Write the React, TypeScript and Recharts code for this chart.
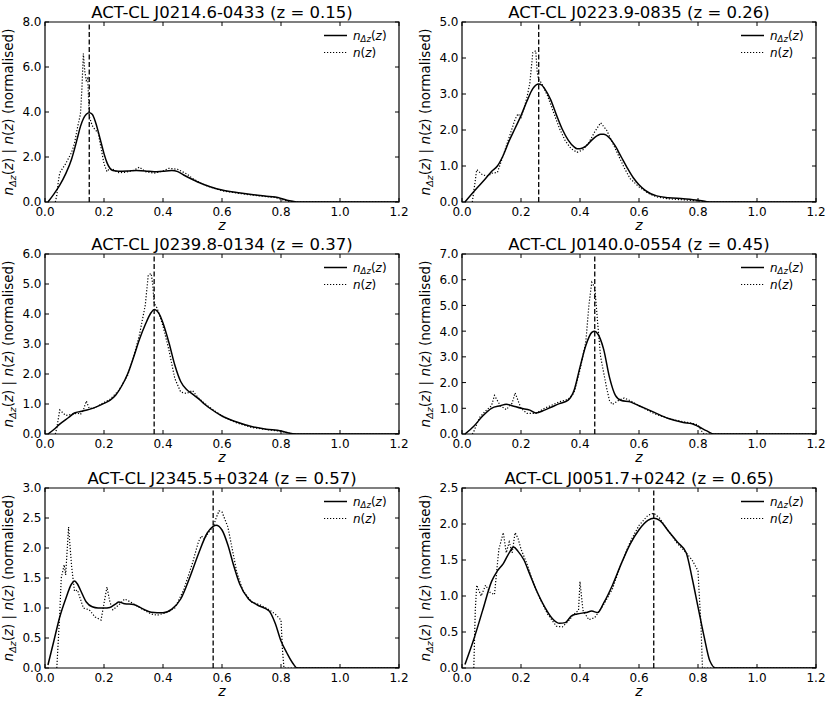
import React from 'react';
import { LineChart, Line, XAxis, YAxis, ReferenceLine, ReferenceArea, Legend } from 'recharts';

type Pt = [number, number];

const X_TICKS = [0, 0.2, 0.4, 0.6, 0.8, 1.0, 1.2];

const j0214Titles = 'ACT-CL J0214.6-0433 (z = 0.15)';
const j0214Z = 0.15;
const j0214YTicks = [0, 2, 4, 6, 8];
const j0214Smooth: Pt[] = [[0.01,0],[0.03,0.35],[0.05,0.75],[0.07,1.25],[0.09,1.9],[0.1,2.35],[0.11,2.85],[0.12,3.35],[0.13,3.7],[0.14,3.9],[0.15,3.97],[0.16,3.9],[0.17,3.6],[0.18,3.15],[0.19,2.65],[0.2,2.15],[0.21,1.75],[0.22,1.5],[0.23,1.4],[0.25,1.37],[0.28,1.38],[0.31,1.4],[0.34,1.38],[0.37,1.34],[0.4,1.37],[0.43,1.4],[0.45,1.35],[0.47,1.2],[0.5,1.0],[0.53,0.82],[0.56,0.68],[0.6,0.53],[0.65,0.42],[0.7,0.33],[0.75,0.26],[0.78,0.22],[0.8,0.16],[0.82,0.08],[0.84,0.03],[0.86,0],[1.2,0]];
const j0214Raw: Pt[] = [[0.035,0],[0.04,0.3],[0.045,0.9],[0.05,1.3],[0.06,1.5],[0.07,1.7],[0.08,1.95],[0.09,2.2],[0.1,2.6],[0.11,3.3],[0.12,3.9],[0.125,5.0],[0.13,6.6],[0.135,5.8],[0.14,5.4],[0.145,5.5],[0.15,3.8],[0.16,3.4],[0.17,3.2],[0.18,3.1],[0.19,2.4],[0.2,1.7],[0.21,1.35],[0.22,1.5],[0.23,1.45],[0.25,1.3],[0.27,1.32],[0.3,1.4],[0.32,1.55],[0.34,1.35],[0.37,1.28],[0.4,1.38],[0.42,1.5],[0.45,1.45],[0.48,1.25],[0.5,1.05],[0.53,0.82],[0.56,0.66],[0.6,0.5],[0.65,0.4],[0.7,0.31],[0.75,0.24],[0.78,0.2],[0.8,0.12],[0.82,0.05],[0.84,0],[1.2,0]];

const j0223Title = 'ACT-CL J0223.9-0835 (z = 0.26)';
const j0223Z = 0.26;
const j0223YTicks = [0, 1, 2, 3, 4, 5];
const j0223Smooth: Pt[] = [[0.01,0],[0.05,0.38],[0.08,0.65],[0.1,0.85],[0.12,1.0],[0.14,1.3],[0.16,1.7],[0.18,2.05],[0.2,2.4],[0.22,2.8],[0.24,3.15],[0.26,3.28],[0.27,3.25],[0.28,3.15],[0.3,2.85],[0.32,2.42],[0.34,2.02],[0.36,1.72],[0.38,1.53],[0.39,1.48],[0.4,1.48],[0.42,1.55],[0.44,1.72],[0.46,1.85],[0.47,1.88],[0.48,1.88],[0.5,1.78],[0.52,1.55],[0.54,1.25],[0.56,0.95],[0.58,0.68],[0.6,0.48],[0.62,0.33],[0.64,0.23],[0.66,0.17],[0.7,0.12],[0.75,0.09],[0.8,0.05],[0.83,0.01],[0.85,0],[1.2,0]];
const j0223Raw: Pt[] = [[0.035,0],[0.04,0.3],[0.05,0.9],[0.07,0.75],[0.09,0.72],[0.1,0.8],[0.12,0.82],[0.14,1.3],[0.16,1.8],[0.18,2.3],[0.19,2.45],[0.2,2.35],[0.21,2.6],[0.22,2.9],[0.23,3.3],[0.24,4.15],[0.25,4.2],[0.255,3.6],[0.26,3.4],[0.27,3.3],[0.29,2.95],[0.31,2.5],[0.33,2.05],[0.35,1.7],[0.37,1.48],[0.39,1.38],[0.41,1.45],[0.43,1.65],[0.45,1.95],[0.47,2.2],[0.49,2.0],[0.51,1.65],[0.53,1.3],[0.55,0.95],[0.57,0.65],[0.6,0.42],[0.63,0.25],[0.66,0.14],[0.7,0.09],[0.75,0.06],[0.8,0.03],[0.82,0],[1.2,0]];

const j0239Title = 'ACT-CL J0239.8-0134 (z = 0.37)';
const j0239Z = 0.37;
const j0239YTicks = [0, 1, 2, 3, 4, 5, 6];
const j0239Smooth: Pt[] = [[0.01,0],[0.03,0.15],[0.05,0.33],[0.08,0.55],[0.1,0.7],[0.12,0.75],[0.15,0.82],[0.18,0.93],[0.2,1.02],[0.22,1.12],[0.24,1.3],[0.26,1.6],[0.28,2.0],[0.3,2.55],[0.32,3.15],[0.34,3.65],[0.36,4.05],[0.37,4.15],[0.38,4.1],[0.39,3.95],[0.4,3.7],[0.42,3.05],[0.44,2.3],[0.46,1.75],[0.48,1.48],[0.5,1.33],[0.52,1.18],[0.54,1.0],[0.56,0.85],[0.6,0.6],[0.65,0.4],[0.7,0.25],[0.75,0.16],[0.8,0.1],[0.82,0.05],[0.85,0],[1.2,0]];
const j0239Raw: Pt[] = [[0.035,0],[0.04,0.2],[0.05,0.8],[0.07,0.62],[0.09,0.65],[0.11,0.7],[0.12,0.65],[0.13,0.8],[0.14,1.1],[0.15,0.85],[0.17,0.88],[0.2,1.05],[0.22,1.15],[0.25,1.45],[0.28,1.95],[0.3,2.55],[0.32,3.3],[0.34,4.3],[0.35,5.3],[0.36,5.35],[0.365,5.0],[0.37,4.35],[0.38,4.2],[0.4,3.6],[0.42,2.8],[0.44,1.85],[0.46,1.4],[0.48,1.35],[0.5,1.45],[0.52,1.2],[0.55,0.95],[0.6,0.6],[0.65,0.37],[0.7,0.22],[0.75,0.15],[0.8,0.09],[0.83,0.02],[0.85,0],[1.2,0]];

const j0140Title = 'ACT-CL J0140.0-0554 (z = 0.45)';
const j0140Z = 0.45;
const j0140YTicks = [0, 1, 2, 3, 4, 5, 6, 7];
const j0140Smooth: Pt[] = [[0.01,0],[0.04,0.3],[0.07,0.7],[0.1,1.0],[0.13,1.1],[0.15,1.16],[0.17,1.1],[0.2,1.0],[0.23,0.93],[0.25,0.82],[0.28,0.93],[0.3,1.03],[0.33,1.18],[0.36,1.32],[0.38,1.7],[0.4,2.6],[0.42,3.45],[0.44,3.95],[0.45,4.0],[0.46,3.9],[0.48,3.3],[0.5,2.2],[0.52,1.5],[0.54,1.3],[0.57,1.25],[0.6,1.1],[0.65,0.85],[0.7,0.6],[0.75,0.45],[0.78,0.4],[0.8,0.3],[0.83,0.12],[0.855,0],[1.2,0]];
const j0140Raw: Pt[] = [[0.035,0],[0.04,0.1],[0.06,0.65],[0.08,0.9],[0.1,1.1],[0.11,1.5],[0.13,1.1],[0.15,0.95],[0.17,1.2],[0.18,1.6],[0.2,1.0],[0.22,0.8],[0.25,0.8],[0.28,1.0],[0.3,1.1],[0.33,1.25],[0.36,1.35],[0.38,1.6],[0.4,2.5],[0.42,3.6],[0.43,5.0],[0.44,5.9],[0.45,5.7],[0.46,4.3],[0.47,3.0],[0.49,1.8],[0.5,1.3],[0.51,1.15],[0.53,1.3],[0.55,1.4],[0.57,1.3],[0.6,1.1],[0.65,0.8],[0.7,0.6],[0.75,0.48],[0.78,0.42],[0.8,0.35],[0.81,0.15],[0.82,0],[1.2,0]];

const j2345Title = 'ACT-CL J2345.5+0324 (z = 0.57)';
const j2345Z = 0.57;
const j2345YTicks = [0, 0.5, 1, 1.5, 2, 2.5, 3];
const j2345Smooth: Pt[] = [[0.01,0.05],[0.03,0.45],[0.05,0.85],[0.07,1.15],[0.09,1.4],[0.1,1.45],[0.11,1.4],[0.12,1.3],[0.14,1.1],[0.16,1.02],[0.18,1.0],[0.2,1.0],[0.22,1.01],[0.24,1.07],[0.25,1.1],[0.27,1.07],[0.3,1.06],[0.33,0.99],[0.36,0.93],[0.4,0.92],[0.43,0.98],[0.46,1.15],[0.49,1.5],[0.52,1.9],[0.55,2.25],[0.57,2.36],[0.58,2.38],[0.6,2.3],[0.62,2.05],[0.64,1.7],[0.66,1.4],[0.69,1.15],[0.72,1.05],[0.76,0.95],[0.78,0.75],[0.8,0.45],[0.82,0.25],[0.84,0.08],[0.855,0],[1.2,0]];
const j2345Raw: Pt[] = [[0.04,0],[0.05,0.9],[0.055,1.5],[0.065,1.72],[0.07,1.55],[0.08,2.35],[0.09,1.7],[0.1,1.28],[0.11,1.3],[0.13,1.0],[0.15,0.97],[0.17,0.85],[0.19,0.8],[0.21,1.35],[0.22,1.1],[0.23,0.97],[0.25,1.05],[0.27,1.15],[0.29,1.1],[0.33,0.98],[0.36,0.9],[0.38,0.88],[0.41,0.92],[0.44,1.0],[0.47,1.3],[0.5,1.75],[0.52,2.1],[0.53,2.2],[0.54,2.15],[0.56,2.3],[0.57,2.35],[0.58,2.5],[0.59,2.62],[0.6,2.6],[0.62,2.35],[0.63,2.1],[0.65,1.6],[0.67,1.3],[0.7,1.1],[0.73,1.05],[0.76,0.97],[0.78,0.9],[0.8,0.8],[0.805,0.3],[0.81,0],[1.2,0]];

const j0051Title = 'ACT-CL J0051.7+0242 (z = 0.65)';
const j0051Z = 0.65;
const j0051YTicks = [0, 0.5, 1, 1.5, 2, 2.5];
const j0051Smooth: Pt[] = [[0.01,0.05],[0.04,0.4],[0.07,0.8],[0.1,1.2],[0.12,1.35],[0.14,1.45],[0.16,1.6],[0.175,1.68],[0.19,1.62],[0.21,1.5],[0.23,1.3],[0.25,1.1],[0.28,0.85],[0.31,0.67],[0.33,0.62],[0.35,0.63],[0.37,0.72],[0.39,0.75],[0.42,0.77],[0.44,0.79],[0.46,0.77],[0.48,0.9],[0.51,1.15],[0.54,1.45],[0.57,1.72],[0.6,1.92],[0.63,2.05],[0.65,2.08],[0.67,2.05],[0.7,1.9],[0.73,1.75],[0.76,1.6],[0.78,1.25],[0.8,0.85],[0.82,0.45],[0.84,0.1],[0.86,0],[1.2,0]];
const j0051Raw: Pt[] = [[0.04,0],[0.045,0.8],[0.05,1.15],[0.065,1.0],[0.08,1.15],[0.095,1.05],[0.11,1.02],[0.125,1.65],[0.14,1.88],[0.15,1.6],[0.16,1.75],[0.17,1.6],[0.18,1.88],[0.19,1.8],[0.2,1.65],[0.22,1.45],[0.24,1.2],[0.26,1.0],[0.29,0.75],[0.32,0.58],[0.34,0.57],[0.36,0.65],[0.38,0.75],[0.395,0.8],[0.4,1.2],[0.41,0.8],[0.43,0.67],[0.45,0.7],[0.48,0.88],[0.51,1.1],[0.54,1.45],[0.57,1.75],[0.6,1.98],[0.63,2.12],[0.65,2.15],[0.67,2.08],[0.7,1.9],[0.73,1.73],[0.76,1.6],[0.78,1.5],[0.8,1.35],[0.81,0.6],[0.815,0],[1.2,0]];

const FONT = '"DejaVu Sans", Verdana, sans-serif';
const PLOT_W = 354;
const PLOT_H = 180;
const CHART_W = 415;
const CHART_H = 232;
const TOP_M = 22;
const COL_LEFT = [45, 462];
const ROW_TOP = [22, 254, 488];
const TICK_LEN = 4;
const DOT_DASH = '1.2 1.8';

const toRows = (pts: Pt[]) => pts.map(([z, n]) => ({ z, n }));

interface PanelSpec {
  title: string;
  zc: number;
  yTicks: number[];
  smooth: Pt[];
  raw: Pt[];
  col: number;
  row: number;
}

const panels: PanelSpec[] = [
  { title: j0214Titles, zc: j0214Z, yTicks: j0214YTicks, smooth: j0214Smooth, raw: j0214Raw, col: 0, row: 0 },
  { title: j0223Title, zc: j0223Z, yTicks: j0223YTicks, smooth: j0223Smooth, raw: j0223Raw, col: 1, row: 0 },
  { title: j0239Title, zc: j0239Z, yTicks: j0239YTicks, smooth: j0239Smooth, raw: j0239Raw, col: 0, row: 1 },
  { title: j0140Title, zc: j0140Z, yTicks: j0140YTicks, smooth: j0140Smooth, raw: j0140Raw, col: 1, row: 1 },
  { title: j2345Title, zc: j2345Z, yTicks: j2345YTicks, smooth: j2345Smooth, raw: j2345Raw, col: 0, row: 2 },
  { title: j0051Title, zc: j0051Z, yTicks: j0051YTicks, smooth: j0051Smooth, raw: j0051Raw, col: 1, row: 2 },
];

function XTick(props: any) {
  const { x, y, payload } = props;
  return (
    <g>
      <line x1={x} x2={x} y1={y} y2={y - TICK_LEN} stroke="#000" strokeWidth={1} />
      <line x1={x} x2={x} y1={y - PLOT_H} y2={y - PLOT_H + TICK_LEN} stroke="#000" strokeWidth={1} />
      <text x={x} y={y + 13.5} textAnchor="middle" fontSize={12} fontFamily={FONT} fill="#000">
        {Number(payload.value).toFixed(1)}
      </text>
    </g>
  );
}

function YTick(props: any) {
  const { x, y, payload } = props;
  return (
    <g>
      <line x1={x} x2={x + TICK_LEN} y1={y} y2={y} stroke="#000" strokeWidth={1} />
      <line x1={x + PLOT_W} x2={x + PLOT_W - TICK_LEN} y1={y} y2={y} stroke="#000" strokeWidth={1} />
      <text x={x - 3.5} y={y + 4.4} textAnchor="end" fontSize={12} fontFamily={FONT} fill="#000">
        {Number(payload.value).toFixed(1)}
      </text>
    </g>
  );
}

function XLabels(props: any) {
  const { cx, plotTop, title } = props;
  return (
    <g>
      <text x={cx} y={plotTop + PLOT_H + 28} textAnchor="middle" fontSize={14} fontStyle="italic" fontFamily={FONT} fill="#000">
        z
      </text>
      <text x={cx} y={plotTop - 4} textAnchor="middle" fontSize={16.5} fontFamily={FONT} fill="#000">
        {title}
      </text>
    </g>
  );
}

function YLabel(props: any) {
  const { lx, ly } = props;
  return (
    <text transform={`translate(${lx},${ly}) rotate(-90)`} textAnchor="middle" fontSize={13.5} fontFamily={FONT} fill="#000">
      <tspan fontStyle="italic">n</tspan>
      <tspan fontStyle="italic" fontSize={9.5} dy={3}>Δz</tspan>
      <tspan dy={-3}>(</tspan>
      <tspan fontStyle="italic">z</tspan>
      <tspan>) | </tspan>
      <tspan fontStyle="italic">n</tspan>
      <tspan>(</tspan>
      <tspan fontStyle="italic">z</tspan>
      <tspan>) (normalised)</tspan>
    </text>
  );
}

function LegendBox() {
  return (
    <svg width={80} height={36} style={{ display: 'block', overflow: 'visible' }}>
      <line x1={3} x2={26} y1={9.5} y2={9.5} stroke="#000" strokeWidth={1.5} />
      <text x={32} y={13.8} fontSize={12} fontFamily={FONT} fill="#000">
        <tspan fontStyle="italic">n</tspan>
        <tspan fontStyle="italic" fontSize={8.5} dy={2.5}>Δz</tspan>
        <tspan dy={-2.5}>(</tspan>
        <tspan fontStyle="italic">z</tspan>
        <tspan>)</tspan>
      </text>
      <line x1={3} x2={26} y1={26.5} y2={26.5} stroke="#000" strokeWidth={1.2} strokeDasharray={DOT_DASH} />
      <text x={32} y={30.8} fontSize={12} fontFamily={FONT} fill="#000">
        <tspan fontStyle="italic">n</tspan>
        <tspan>(</tspan>
        <tspan fontStyle="italic">z</tspan>
        <tspan>)</tspan>
      </text>
    </svg>
  );
}

function Panel({ spec }: { spec: PanelSpec }) {
  const chartLeft = spec.col * CHART_W;
  const chartTop = ROW_TOP[spec.row] - TOP_M;
  const yAxisW = COL_LEFT[spec.col] - chartLeft;
  const rightM = CHART_W - yAxisW - PLOT_W;
  const xAxisH = CHART_H - TOP_M - PLOT_H;
  const yMax = spec.yTicks[spec.yTicks.length - 1];
  const cx = yAxisW + PLOT_W / 2;
  const plotRight = yAxisW + PLOT_W;
  return (
    <div style={{ position: 'absolute', left: chartLeft, top: chartTop, width: CHART_W, height: CHART_H }}>
      <LineChart width={CHART_W} height={CHART_H} margin={{ top: TOP_M, right: rightM, bottom: 0, left: 0 }}>
        <XAxis
          dataKey="z"
          type="number"
          domain={[0, 1.2]}
          ticks={X_TICKS}
          interval={0}
          allowDataOverflow
          height={xAxisH}
          axisLine={false}
          tickLine={false}
          tickSize={0}
          tickMargin={0}
          tick={<XTick />}
          label={<XLabels cx={cx} plotTop={TOP_M} title={spec.title} />}
        />
        <YAxis
          type="number"
          domain={[0, yMax]}
          ticks={spec.yTicks}
          interval={0}
          allowDataOverflow
          width={yAxisW}
          axisLine={false}
          tickLine={false}
          tickSize={0}
          tickMargin={0}
          tick={<YTick />}
          label={<YLabel lx={yAxisW - 32} ly={TOP_M + PLOT_H / 2} />}
        />
        <ReferenceArea x1={0} x2={1.2} y1={0} y2={yMax} fill="none" fillOpacity={0} stroke="#000" strokeWidth={1.2} />
        <ReferenceLine x={spec.zc} stroke="#000" strokeWidth={1.3} strokeDasharray="5 2.5" />
        <Line data={toRows(spec.smooth)} dataKey="n" name="nDz" type="monotone" stroke="#000" strokeWidth={1.5} dot={false} activeDot={false} isAnimationActive={false} />
        <Line data={toRows(spec.raw)} dataKey="n" name="nz" type="linear" stroke="#000" strokeWidth={1.2} strokeDasharray={DOT_DASH} dot={false} activeDot={false} isAnimationActive={false} />
        <Legend
          layout="horizontal"
          align="center"
          verticalAlign="middle"
          wrapperStyle={{ left: plotRight - 78, top: TOP_M + 4, width: 80, height: 36 }}
          content={() => <LegendBox />}
        />
      </LineChart>
    </div>
  );
}

export default function App() {
  return (
    <div style={{ position: 'absolute', left: 0, top: 0, width: 830, height: 705, background: '#fff' }}>
      {panels.map((p) => (
        <Panel key={p.title} spec={p} />
      ))}
    </div>
  );
}
